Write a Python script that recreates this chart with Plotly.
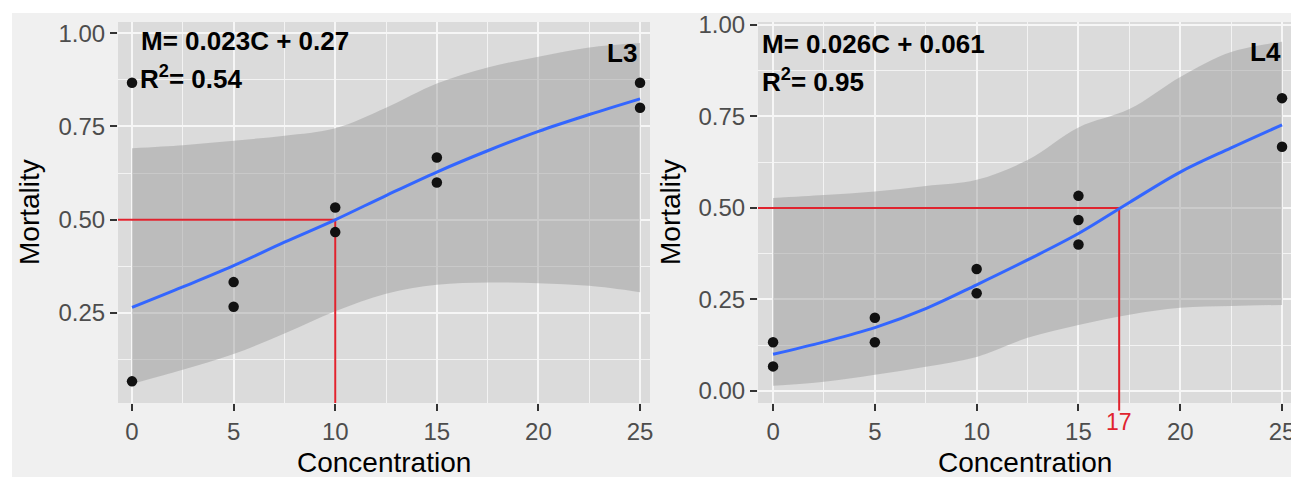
import plotly.graph_objects as go

W, H = 1291, 477

# ---------------- data ----------------
conc_grid = [0, 2.5, 5, 7.5, 10, 12.5, 15, 17.5, 20, 22.5, 25]

l3_conc = [0, 0, 5, 5, 10, 10, 15, 15, 25, 25]
l3_mort = [0.067, 0.867, 0.333, 0.267, 0.533, 0.467, 0.667, 0.600, 0.867, 0.800]
l3_fit = [0.265, 0.320, 0.377, 0.440, 0.500, 0.565, 0.628, 0.685, 0.737, 0.782, 0.824]
l3_upper = [0.692, 0.700, 0.712, 0.725, 0.745, 0.800, 0.865, 0.908, 0.937, 0.962, 0.974]
l3_lower = [0.060, 0.098, 0.140, 0.195, 0.255, 0.302, 0.326, 0.332, 0.330, 0.323, 0.306]
l3_lc50 = 10
l3_eq = "M= 0.023C + 0.27"
l3_r2 = "0.54"
l3_name = "L3"

l4_conc = [0, 0, 5, 5, 10, 10, 15, 15, 15, 25, 25]
l4_mort = [0.133, 0.067, 0.200, 0.133, 0.333, 0.267, 0.533, 0.467, 0.400, 0.800, 0.667]
l4_fit = [0.100, 0.134, 0.173, 0.225, 0.290, 0.358, 0.430, 0.515, 0.598, 0.664, 0.727]
l4_upper = [0.527, 0.535, 0.545, 0.560, 0.577, 0.631, 0.720, 0.770, 0.858, 0.926, 0.954]
l4_lower = [0.014, 0.025, 0.044, 0.066, 0.093, 0.145, 0.180, 0.208, 0.227, 0.232, 0.235]
l4_lc50 = 17
l4_eq = "M= 0.026C + 0.061"
l4_r2 = "0.95"
l4_name = "L4"

threshold = 0.5
x_ticks = [0, 5, 10, 15, 20, 25]

# ---------------- style ----------------
FONT = "Liberation Sans, Arial, sans-serif"
PANEL_BG = "#DBDBDB"
OUTER_BG = "#F0F0F0"
RIBBON = "rgba(150,150,150,0.45)"
BLUE = "#3366FF"
RED = "#E0232E"
TICK_COL = "#4D4D4D"

fig = go.Figure()

panels = [
    dict(xa="x", ya="y", conc=l3_conc, mort=l3_mort, fit=l3_fit, up=l3_upper,
         lo=l3_lower, lc50=l3_lc50),
    dict(xa="x2", ya="y2", conc=l4_conc, mort=l4_mort, fit=l4_fit, up=l4_upper,
         lo=l4_lower, lc50=l4_lc50),
]

for p in panels:
    fig.add_trace(go.Scatter(x=conc_grid, y=p["lo"], mode="lines", line=dict(width=0, shape="spline"),
                             xaxis=p["xa"], yaxis=p["ya"], showlegend=False, hoverinfo="skip"))
    fig.add_trace(go.Scatter(x=conc_grid, y=p["up"], mode="lines", line=dict(width=0, shape="spline"),
                             fill="tonexty", fillcolor=RIBBON,
                             xaxis=p["xa"], yaxis=p["ya"], showlegend=False, hoverinfo="skip"))
    # red guide lines (clipped to plot area)
    fig.add_trace(go.Scatter(x=[-10, p["lc50"], p["lc50"]], y=[threshold, threshold, -1],
                             mode="lines", line=dict(color=RED, width=2),
                             xaxis=p["xa"], yaxis=p["ya"], showlegend=False, hoverinfo="skip"))
    fig.add_trace(go.Scatter(x=conc_grid, y=p["fit"], mode="lines",
                             line=dict(color=BLUE, width=3, shape="spline"),
                             xaxis=p["xa"], yaxis=p["ya"], showlegend=False))
    fig.add_trace(go.Scatter(x=p["conc"], y=p["mort"], mode="markers",
                             marker=dict(color="#111111", size=10.5),
                             xaxis=p["xa"], yaxis=p["ya"], showlegend=False, cliponaxis=False))

y_dom = [1 - 403 / H, 1 - 22 / H]

axis_common = dict(
    showgrid=True, gridcolor="#F6F6F6", gridwidth=1.6, zeroline=False,
    ticks="outside", ticklen=7, tickwidth=1.5, tickcolor="#333333",
    tickfont=dict(family=FONT, size=24, color=TICK_COL),
    showline=False, automargin=False, ticklabeloverflow="allow",
)
minor_x = dict(dtick=2.5, tick0=0, showgrid=True, gridcolor="#F3F3F3", gridwidth=0.8, ticklen=0)
minor_y = dict(dtick=0.125, tick0=0, showgrid=True, gridcolor="#F3F3F3", gridwidth=0.8, ticklen=0)

fig.update_layout(
    width=W, height=H, autosize=False,
    margin=dict(l=0, r=0, t=0, b=0, pad=0),
    paper_bgcolor=OUTER_BG,
    plot_bgcolor=PANEL_BG,
    font=dict(family=FONT),
    xaxis=dict(domain=[118 / W, 650 / W], range=[-0.69, 25.49], tickvals=x_ticks,
               minor=minor_x, anchor="y", **axis_common),
    yaxis=dict(domain=y_dom, range=[0.009, 1.03], dtick=0.25, tick0=0, tickformat=".2f",
               minor=minor_y, anchor="x", **axis_common),
    xaxis2=dict(domain=[758 / W, 1.0], range=[-0.74, 25.44], tickvals=x_ticks,
                minor=minor_x, anchor="y2", **axis_common),
    yaxis2=dict(domain=y_dom, range=[-0.033, 1.008], dtick=0.25, tick0=0, tickformat=".2f",
                minor=minor_y, anchor="x2", **axis_common),
)

# white margin strips at top and left (outside the panels)
fig.add_shape(type="rect", xref="paper", yref="paper", x0=0, x1=1, y0=1 - 13 / H, y1=1,
              fillcolor="white", line=dict(width=0), layer="below")
fig.add_shape(type="rect", xref="paper", yref="paper", x0=0, x1=12 / W, y0=0, y1=1,
              fillcolor="white", line=dict(width=0), layer="below")

# red extended tick for LC50 on right panel
fig.add_shape(type="line", xref="x2", yref="y2 domain", x0=l4_lc50, x1=l4_lc50, y0=0, y1=-0.02,
              line=dict(color=RED, width=2))

ann_font_b = dict(family=FONT, size=26, color="black")
annotations = [
    dict(text=f"<b>{l3_eq}</b>", x=139 / W, y=1 - 41 / H),
    dict(text=f"<b>R<sup>2</sup>= {l3_r2}</b>", x=138 / W, y=1 - 78 / H),
    dict(text=f"<b>{l4_eq}</b>", x=760 / W, y=1 - 44 / H),
    dict(text=f"<b>R<sup>2</sup>= {l4_r2}</b>", x=760 / W, y=1 - 81 / H),
]
for a in annotations:
    fig.add_annotation(xref="paper", yref="paper", xanchor="left", yanchor="middle",
                       showarrow=False, font=ann_font_b, **a)

fig.add_annotation(text=f"<b>{l3_name}</b>", xref="paper", yref="paper", x=639 / W, y=1 - 53 / H,
                   xanchor="right", yanchor="middle", showarrow=False, font=ann_font_b)
fig.add_annotation(text=f"<b>{l4_name}</b>", xref="paper", yref="paper", x=1283 / W, y=1 - 52 / H,
                   xanchor="right", yanchor="middle", showarrow=False, font=ann_font_b)

# red LC50 label under right axis
fig.add_annotation(text=str(l4_lc50), xref="x2", yref="paper", x=l4_lc50, y=1 - 422 / H,
                   xanchor="center", yanchor="middle", showarrow=False,
                   font=dict(family=FONT, size=23, color=RED))

# axis titles
title_font = dict(family=FONT, size=28, color="black")
for cx in [(118 + 650) / 2, (758 + 1291) / 2]:
    fig.add_annotation(text="Concentration", xref="paper", yref="paper", x=cx / W, y=1 - 462 / H,
                       xanchor="center", yanchor="middle", showarrow=False, font=title_font)
for cx in [29, 670]:
    fig.add_annotation(text="Mortality", xref="paper", yref="paper", x=cx / W, y=1 - 212 / H,
                       xanchor="center", yanchor="middle", showarrow=False, font=title_font,
                       textangle=-90)

fig.write_html(
    "out.html",
    config={"displayModeBar": False},
    post_script=(
        "document.documentElement.style.margin='0';document.body.style.margin='0';"
        "document.body.style.overflow='hidden';document.documentElement.style.overflow='hidden';"
        "var d=document.getElementById('{plot_id}');d.style.position='absolute';"
        "d.style.top='0px';d.style.left='0px';"
    ),
)
